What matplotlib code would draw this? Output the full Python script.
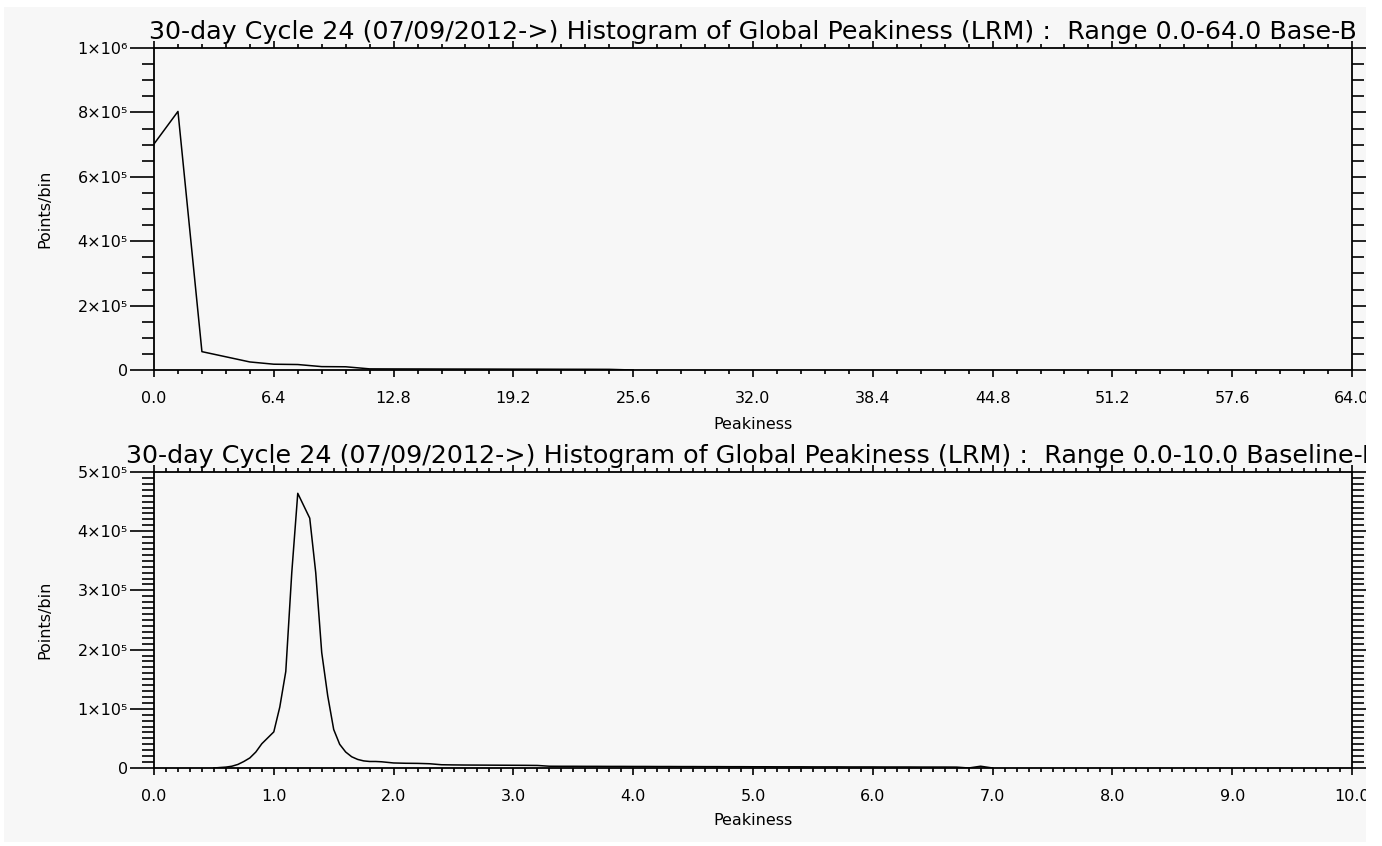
import matplotlib
matplotlib.use("Agg")
import matplotlib.pyplot as plt
from matplotlib.ticker import FixedLocator, MultipleLocator
from matplotlib.patches import Rectangle

# ---------------- data ----------------
top_x = [0.00, 1.28, 2.56, 3.84, 5.12, 6.40, 7.68, 8.96, 10.24, 11.52, 12.80,
         14.08, 15.36, 16.64, 17.92, 19.20, 20.48, 21.76, 23.04, 24.32, 25.60]
top_y = [702000, 803000, 57000, 41000, 25000, 18000, 17000, 10500, 10000, 3500, 3300,
         3200, 3000, 2900, 2800, 2600, 2500, 2300, 2200, 2000, 0]

bot_x = [0.50, 0.55, 0.60, 0.65, 0.70, 0.75, 0.80, 0.85, 0.90, 0.95, 1.00,
         1.05, 1.10, 1.15, 1.20, 1.25, 1.30, 1.35, 1.40, 1.45, 1.50,
         1.55, 1.60, 1.65, 1.70, 1.75, 1.80, 1.85, 1.90, 1.95, 2.00,
         2.1, 2.2, 2.3, 2.4, 2.5, 2.6, 2.7, 2.8, 2.9, 3.0,
         3.1, 3.2, 3.3, 3.4, 3.5, 3.6, 3.7, 3.8, 3.9, 4.0,
         4.1, 4.2, 4.3, 4.4, 4.5, 4.6, 4.7, 4.8, 4.9, 5.0,
         5.1, 5.2, 5.3, 5.4, 5.5, 5.6, 5.7, 5.8, 5.9, 6.0,
         6.1, 6.2, 6.3, 6.4, 6.5, 6.6, 6.7, 6.8, 6.9, 7.0]
bot_y = [0, 800, 1500, 3000, 6000, 11000, 17000, 27000, 41000, 51000, 61000,
         103000, 163000, 330000, 464000, 443000, 422000, 330000, 195000, 122000, 65000,
         40000, 27000, 19000, 14500, 12000, 11000, 11000, 10500, 9500, 8500,
         8000, 7800, 7200, 5500, 5200, 5000, 4900, 4800, 4700, 4600,
         4500, 4300, 3000, 2900, 2900, 2800, 2800, 2700, 2700, 2600,
         2600, 2500, 2500, 2400, 2400, 2300, 2300, 2200, 2200, 2100,
         2100, 2000, 2000, 2000, 1900, 1900, 1900, 1800, 1800, 1800,
         1700, 1700, 1700, 1600, 1600, 1600, 1500, 0, 3000, 0]

top_xticks = [0.0, 6.4, 12.8, 19.2, 25.6, 32.0, 38.4, 44.8, 51.2, 57.6, 64.0]
top_xticklabels = ["0.0", "6.4", "12.8", "19.2", "25.6", "32.0", "38.4",
                   "44.8", "51.2", "57.6", "64.0"]
top_yticks = [0, 200000, 400000, 600000, 800000, 1000000]
top_yticklabels = ["0", "2×10⁵", "4×10⁵", "6×10⁵", "8×10⁵", "1×10⁶"]

bot_xticks = [0, 1, 2, 3, 4, 5, 6, 7, 8, 9, 10]
bot_xticklabels = ["0.0", "1.0", "2.0", "3.0", "4.0", "5.0", "6.0",
                   "7.0", "8.0", "9.0", "10.0"]
bot_yticks = [0, 100000, 200000, 300000, 400000, 500000]
bot_yticklabels = ["0", "1×10⁵", "2×10⁵", "3×10⁵", "4×10⁵", "5×10⁵"]

title_top = "30-day Cycle 24 (07/09/2012->) Histogram of Global Peakiness (LRM) :  Range 0.0-64.0 Base-B"
title_bot = "30-day Cycle 24 (07/09/2012->) Histogram of Global Peakiness (LRM) :  Range 0.0-10.0 Baseline-B"

# ---------------- figure ----------------
W, H = 1382, 846
BG = "#f7f7f7"
plt.rcParams['font.family'] = ['DejaVu Sans']
fig = plt.figure(figsize=(W / 100, H / 100), dpi=100, facecolor=BG)

def px_axes(l, t, r, b):
    return [l / W, 1 - b / H, (r - l) / W, (b - t) / H]

ax1 = fig.add_axes(px_axes(154, 48, 1352, 370))
ax2 = fig.add_axes(px_axes(154, 472, 1352, 768))

# fit title font size to measured width
renderer = fig.canvas.get_renderer()
probe = fig.text(0, 0, title_top, fontsize=10)
w10 = probe.get_window_extent(renderer).width
probe.remove()
title_fs = 10 * 1206 / w10

tick_fs = 11.5

def style(ax, xticks, xlabels, xminor, yticks, ylabels, yminor, xlim, ylim, title,
          h_px, xlab_y):
    ax.set_facecolor(BG)
    ax.set_xlim(*xlim)
    ax.set_ylim(*ylim)
    ax.xaxis.set_major_locator(FixedLocator(xticks))
    ax.set_xticklabels(xlabels)
    ax.xaxis.set_minor_locator(MultipleLocator(xminor))
    ax.yaxis.set_major_locator(FixedLocator(yticks))
    ax.set_yticklabels(ylabels)
    ax.yaxis.set_minor_locator(MultipleLocator(yminor))
    for s in ax.spines.values():
        s.set_linewidth(1.3)
        s.set_color("black")
    ax.tick_params(which='both', direction='out', top=True, right=True,
                   labeltop=False, labelright=False, width=1.2, colors='black',
                   labelsize=tick_fs)
    ax.tick_params(axis='x', which='major', length=4.8, pad=10)
    ax.tick_params(axis='x', which='minor', length=2.6)
    ax.tick_params(axis='y', which='major', length=17.3, pad=1.5)
    ax.tick_params(axis='y', which='minor', length=8.6)
    ax.set_xlabel("Peakiness", fontsize=11.5)
    ax.xaxis.set_label_coords(0.5, xlab_y)
    ax.xaxis.label.set_va('center')
    ax.set_ylabel("Points/bin", fontsize=11.5)
    ax.yaxis.set_label_coords(-0.091, 0.5)
    ax.yaxis.label.set_va('center')
    ax.text(0.5, 1 + 9 / h_px, title, transform=ax.transAxes, ha='center',
            va='baseline', fontsize=title_fs, clip_on=False)

ax1.plot(top_x, top_y, color='black', lw=1.1)
style(ax1, top_xticks, top_xticklabels, 1.28, top_yticks, top_yticklabels, 50000,
      (0, 64), (0, 1000000), title_top, 322, -0.168)

ax2.plot(bot_x, bot_y, color='black', lw=1.1)
style(ax2, bot_xticks, bot_xticklabels, 0.1, bot_yticks, bot_yticklabels, 10000,
      (0, 10), (0, 500000), title_bot, 296, -0.176)

# white screenshot border on top of everything
for (x0, y0, w, h) in [(0, 0, 4, H), (0, 0, W, 7), (1366, 0, W - 1366, H), (0, 842, W, 4)]:
    fig.patches.append(Rectangle((x0 / W, 1 - (y0 + h) / H), w / W, h / H,
                                 transform=fig.transFigure, facecolor='white',
                                 edgecolor='none', zorder=10))

fig.savefig("out.png", dpi=100, facecolor=BG)
